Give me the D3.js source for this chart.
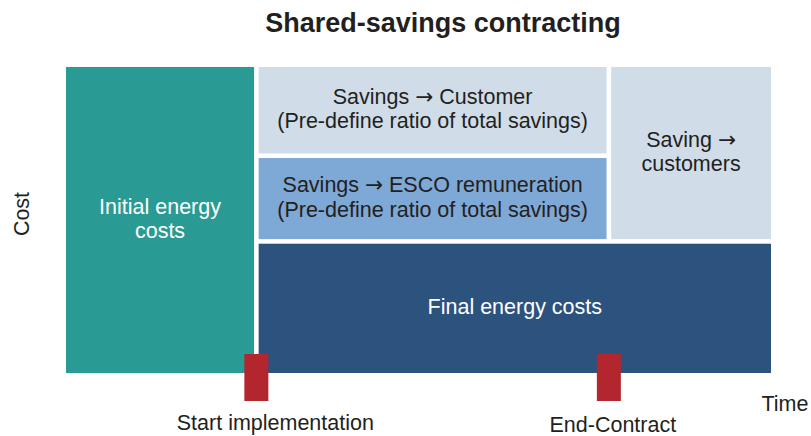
<!DOCTYPE html>
<html>
<head>
<meta charset="utf-8">
<script src="https://cdn.jsdelivr.net/npm/d3@7"></script>
<style>
  body { margin: 0; background: #fff; }
  text { font-family: "Liberation Sans", Arial, sans-serif; }
  .arrow { font-family: "DejaVu Sans", sans-serif; }
</style>
</head>
<body>
<div id="chart"></div>
<script>
// time points (share of the timeline) and cost levels (share of initial cost)
const timePoints = [0, 27, 77, 100]
const costLevels = [0, 43, 71, 100]

const milestoneLabels = ["Start implementation", "End-Contract"]
const milestoneTimes = [27, 77]

// blocks; "->" is drawn as an arrow glyph
const blockNames = ["initial", "customer", "esco", "after", "final"]
const blockLines = [
  ["Initial energy", "costs"],
  ["Savings -> Customer", "(Pre-define ratio of total savings)"],
  ["Savings -> ESCO remuneration", "(Pre-define ratio of total savings)"],
  ["Saving ->", "customers"],
  ["Final energy costs"]
]
const blockTime = [[0, 27], [27, 77], [27, 77], [77, 100], [27, 100]]
const blockCost = [[0, 100], [71, 100], [43, 71], [43, 100], [0, 43]]

const colors = {
  initial: "#2a9b94", customer: "#d0dde9", esco: "#7ea8d5",
  after: "#d0dde9", final: "#2c527e"
}
const textColors = {
  initial: "#fff", customer: "#231f20", esco: "#231f20",
  after: "#231f20", final: "#fff"
}

const width = 811, height = 436
const margin = {top: 67, right: 40, bottom: 63, left: 66}

const svg = d3.select("#chart")
  .append("svg")
    .attr("width", width)
    .attr("height", height)

const x = d3.scaleLinear()
  .domain([0, 100])
  .range([margin.left, width - margin.right])

const y = d3.scaleLinear()
  .domain([0, 100])
  .range([height - margin.bottom, margin.top])

const gap = 2.3
const fontSize = 21.5

const blocks = blockNames.map((name, i) => ({
  name: name,
  lines: blockLines[i],
  t0: blockTime[i][0], t1: blockTime[i][1],
  c0: blockCost[i][0], c1: blockCost[i][1]
}))

// inset only on inner edges
function edges(d) {
  const x0 = x(d.t0) + (d.t0 > 0 ? gap : 0)
  const x1 = x(d.t1) - (d.t1 < 100 ? gap : 0)
  const y1 = y(d.c0) - (d.c0 > 0 ? gap : 0)
  const y0 = y(d.c1) + (d.c1 < 100 ? gap : 0)
  return {x0, x1, y0, y1}
}

const g = svg.selectAll("g.block")
  .data(blocks)
  .enter()
  .append("g")
  .attr("class", "block")

g.append("rect")
  .attr("x", d => edges(d).x0)
  .attr("y", d => edges(d).y0)
  .attr("width", d => edges(d).x1 - edges(d).x0)
  .attr("height", d => edges(d).y1 - edges(d).y0)
  .style("fill", d => colors[d.name])

g.each(function(d) {
  const e = edges(d)
  const cx = (e.x0 + e.x1) / 2
  const cy = (e.y0 + e.y1) / 2
  const lh = 24.5
  const n = d.lines.length
  d.lines.forEach((line, j) => {
    const t = d3.select(this).append("text")
      .attr("x", cx)
      .attr("y", cy + (j - (n - 1) / 2) * lh)
      .attr("dy", "0.27em")
      .attr("text-anchor", "middle")
      .style("font-size", fontSize + "px")
      .style("fill", textColors[d.name])
    const parts = line.split("->")
    parts.forEach((p, k) => {
      if (k > 0) {
        t.append("tspan").attr("class", "arrow").text("\u2192")
      }
      t.append("tspan").text(p)
    })
  })
})

// milestone markers
const markerW = 24
svg.selectAll("rect.marker")
  .data(milestoneTimes)
  .enter()
  .append("rect")
    .attr("class", "marker")
    .attr("x", d => x(d) - markerW / 2)
    .attr("y", y(0) - 19)
    .attr("width", markerW)
    .attr("height", 47)
    .style("fill", "#b3262e")

const labelNudge = [19, 4]
svg.selectAll("text.milestone")
  .data(milestoneLabels)
  .enter()
  .append("text")
    .attr("class", "milestone")
    .attr("x", (d, i) => x(milestoneTimes[i]) + labelNudge[i])
    .attr("y", (d, i) => 430 + i * 2)
    .attr("text-anchor", "middle")
    .style("font-size", fontSize + "px")
    .style("fill", "#231f20")
    .text(d => d)

// axis titles
svg.append("text")
  .attr("x", 785)
  .attr("y", 411)
  .attr("text-anchor", "middle")
  .style("font-size", fontSize + "px")
  .style("fill", "#231f20")
  .text("Time")

svg.append("text")
  .attr("transform", "translate(29,214)rotate(-90)")
  .attr("text-anchor", "middle")
  .style("font-size", fontSize + "px")
  .style("fill", "#231f20")
  .text("Cost")

svg.append("text")
  .attr("x", 443)
  .attr("y", 32)
  .attr("text-anchor", "middle")
  .style("font-size", "27px")
  .style("font-weight", "bold")
  .style("fill", "#231f20")
  .text("Shared-savings contracting")
</script>
</body>
</html>
